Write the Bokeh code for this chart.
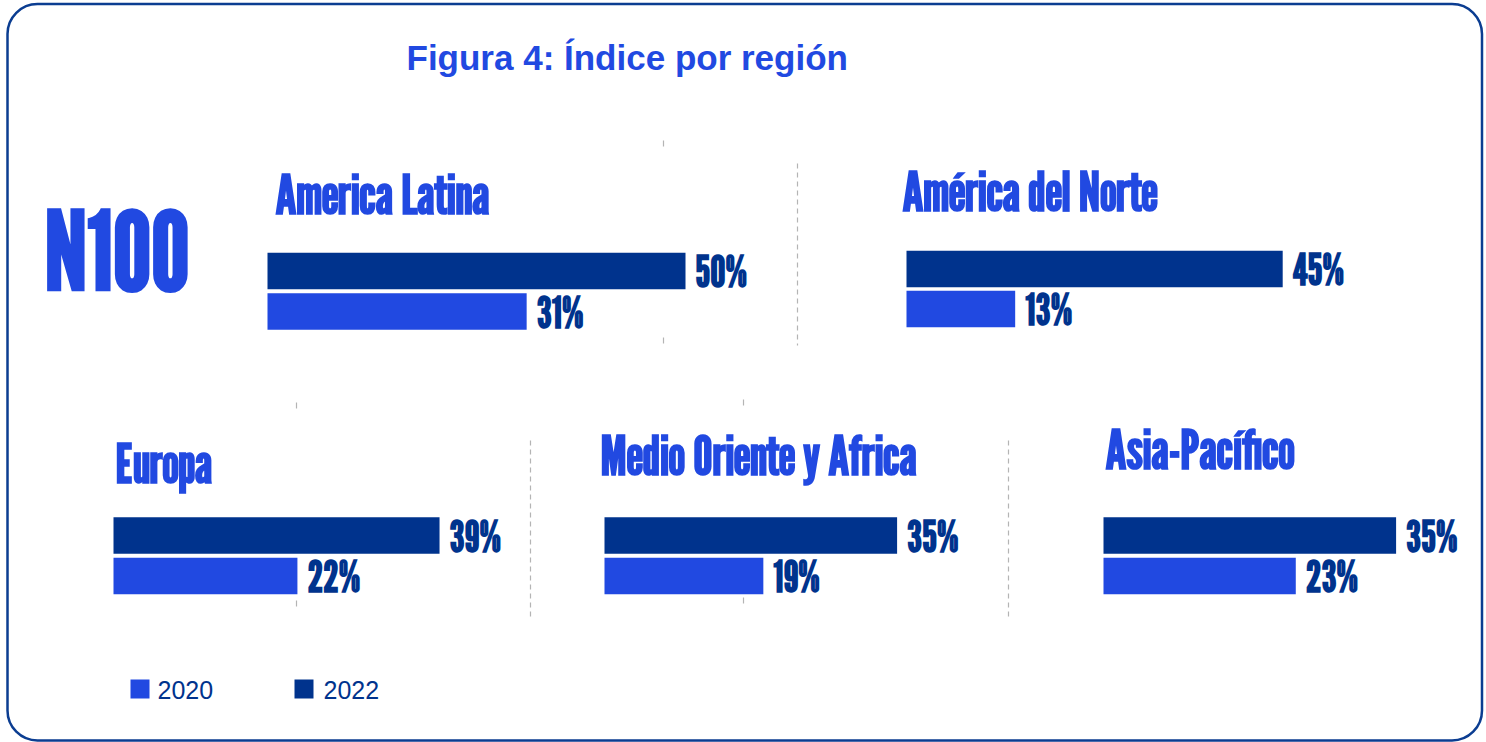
from bokeh.plotting import figure
from bokeh.models import Range1d
from bokeh.core.properties import value
from bokeh.embed import file_html
from bokeh.resources import INLINE

# ---- data ----
regions = ["America Latina", "América del Norte", "Europa", "Medio Oriente y Africa", "Asia-Pacífico"]
v2022 = [50, 45, 39, 35, 35]
v2020 = [31, 13, 22, 19, 23]
years = ["2020", "2022"]
title_text = "Figura 4: Índice por región"
badge = "N100"

# ---- layout / style ----
W, H = 1486, 742
DARK = "#00338D"
BLUE = "#2149E1"
GRAY = "#b4b4b4"
PX = 8.36  # pixels per percentage point
COND = value("'League Gothic', 'Sofia Sans Extra Condensed', 'Roboto Condensed', sans-serif")
SANS = value("'Liberation Sans', Arial, sans-serif")

panel_x0 = [267, 906, 113, 604, 1103]
y_2022 = [270.5, 268.5, 535, 535, 535]
y_2020 = [311, 308.5, 575.5, 575.5, 575.5]
title_x = [275, 902, 115, 600, 1105]
title_y = [193.5, 191, 463, 455, 449]
BAR_H = 36.5

p = figure(width=W, height=H, x_range=Range1d(0, W), y_range=Range1d(H, 0),
           output_backend="svg", toolbar_location=None, min_border=0,
           background_fill_color="white", border_fill_color="white")
p.axis.visible = False
p.grid.visible = False
p.outline_line_color = None

# rounded frame
p.quad(left=[7], right=[1481.5], top=[3.5], bottom=[740], border_radius=30,
       fill_color=None, line_color="#0B3D91", line_width=2.5)

# title
p.text(x=[406], y=[57], text=[title_text], text_font=SANS, text_font_style="bold",
       text_font_size="35px", text_color=BLUE, text_align="left", text_baseline="middle")

# badge
p.text(x=[44], y=[249], text=[badge], text_font=COND, text_font_style="bold",
       text_font_size="108px", text_color=BLUE, text_align="left", text_baseline="middle")

# separators (dashed)
p.segment(x0=[797, 530, 1008], y0=[163, 440, 440], x1=[797, 530, 1008], y1=[345, 620, 620],
          line_color=GRAY, line_width=1.2, line_dash="5 4")
# small tick remnants
tx = [663, 663, 296, 296, 743, 743]
ty = [143, 340, 405, 603, 402, 600]
p.segment(x0=tx, y0=[t - 3 for t in ty], x1=tx, y1=[t + 3 for t in ty],
          line_color=GRAY, line_width=1.2)

# bars
left = panel_x0
r22 = [x0 + v * PX for x0, v in zip(panel_x0, v2022)]
r20 = [x0 + v * PX for x0, v in zip(panel_x0, v2020)]
p.hbar(y=y_2022, left=left, right=r22, height=BAR_H, fill_color=DARK, line_color=None)
p.hbar(y=y_2020, left=left, right=r20, height=BAR_H, fill_color=BLUE, line_color=None)

# value labels
p.text(x=[r + 10 for r in r22], y=y_2022, text=[f"{v}%" for v in v2022],
       text_font=COND, text_font_style="bold", text_font_size="43px", text_color=DARK,
       text_baseline="middle")
p.text(x=[r + 10 for r in r20], y=y_2020, text=[f"{v}%" for v in v2020],
       text_font=COND, text_font_style="bold", text_font_size="43px", text_color=DARK,
       text_baseline="middle")

# region titles
p.text(x=title_x, y=title_y, text=regions,
       text_font=COND, text_font_style="bold", text_font_size="54px", text_color=BLUE,
       text_baseline="middle")

# legend
lx = [139.5, 303.5]
p.rect(x=lx, y=[688.5, 688.5], width=19, height=19, fill_color=[BLUE, DARK], line_color=None)
p.text(x=[157, 323], y=[689, 689], text=years, text_font=SANS, text_font_size="25px",
       text_color=DARK, text_baseline="middle")

open("out.html", "w").write(file_html(p, INLINE))
